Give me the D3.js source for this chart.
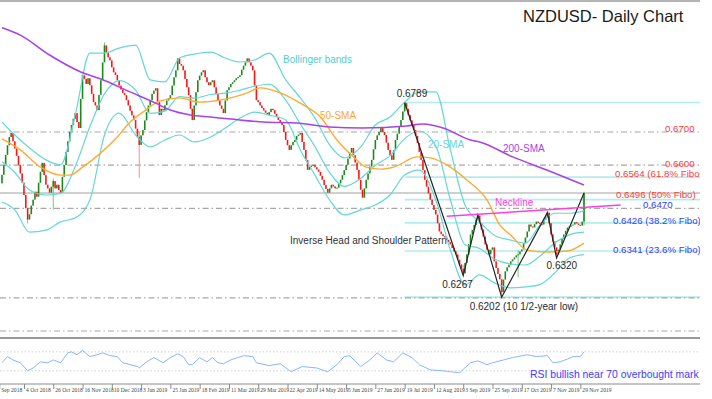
<!DOCTYPE html>
<html>
<head>
<meta charset="utf-8">
<script src="https://cdn.jsdelivr.net/npm/d3@7/dist/d3.min.js"></script>
<style>
  html, body { margin: 0; padding: 0; background: #fff; }
  svg { display: block; font-family: Arial, "Liberation Sans", sans-serif; }
</style>
</head>
<body>
<div id="chart"></div>
<script>
// NZDUSD daily closes in pips (6571 = 0.6571), one per candle
const closePips = [
  6571,6600,6631,6660,6685,6697,6672,6650,6628,6601,
  6575,6547,6510,6470,6436,6452,6478,6496,6520,6505,
  6547,6580,6607,6570,6541,6530,6517,6535,6552,6530,
  6541,6525,6517,6565,6600,6640,6672,6700,6721,6740,
  6757,6730,6712,6800,6871,6860,6845,6862,6841,6815,
  6790,6780,6766,6812,6856,6910,6961,6940,6925,6916,
  6895,6880,6872,6856,6840,6828,6818,6811,6796,6780,
  6764,6750,6736,6710,6685,6661,6690,6706,6735,6760,
  6780,6796,6815,6825,6832,6790,6751,6770,6765,6781,
  6795,6802,6811,6840,6865,6886,6922,6905,6900,6886,
  6860,6835,6811,6770,6736,6780,6820,6856,6870,6880,
  6886,6865,6850,6841,6850,6856,6835,6815,6796,6780,
  6770,6757,6795,6826,6835,6845,6850,6856,6862,6866,
  6871,6888,6900,6910,6922,6910,6900,6886,6840,6796,
  6790,6780,6772,6765,6758,6751,6760,6770,6766,6755,
  6745,6736,6730,6721,6700,6676,6660,6646,6660,6670,
  6676,6688,6692,6697,6670,6646,6615,6586,6595,6598,
  6601,6594,6587,6580,6568,6556,6540,6528,6517,6530,
  6541,6536,6530,6532,6545,6556,6570,6585,6601,6620,
  6638,6652,6630,6608,6586,6556,6526,6502,6530,6556,
  6575,6596,6616,6648,6676,6690,6700,6712,6700,6691,
  6668,6646,6630,6616,6645,6676,6695,6716,6736,6762,
  6787,6770,6751,6735,6720,6706,6688,6667,6640,6616,
  6585,6556,6535,6515,6496,6480,6465,6451,6425,6400,
  6392,6386,6382,6375,6368,6361,6350,6340,6331,6315,
  6301,6288,6274,6305,6331,6362,6391,6405,6420,6436,
  6448,6425,6406,6385,6361,6345,6331,6345,6352,6310,
  6290,6272,6256,6217,6255,6280,6292,6300,6310,6316,
  6322,6328,6331,6340,6346,6365,6382,6400,6421,6415,
  6412,6422,6430,6426,6422,6421,6435,6442,6457,6425,
  6391,6370,6352,6331,6345,6361,6378,6391,6402,6412,
  6416,6418,6421,6428,6424,6420,6418,6430,6516
];
const firstOpenPips = 6545;

// [candle, high, low] for the wicks that stick out
const wicks = [
  [14, 6470, 6424], [28, 6560, 6466], [56, 6970, 6930], [75, 6700, 6562],
  [220, 6789, 6762], [252, 6300, 6267], [273, 6245, 6202], [282, 6345, 6262],
  [303, 6352, 6320], [318, 6520, 6418]
];

// indicators: [candle, pips]
const sma200 = [
  [0,7014],[10,6992],[26,6932],[43,6881],[54,6860],[70,6821],[84,6787],[92,6766],
  [103,6751],[114,6745],[125,6739],[143,6730],[161,6727],[179,6715],[197,6712],
  [221,6718],[230,6724],[241,6712],[256,6676],[261,6670],[279,6625],[298,6585],[318,6540]
];
const sma50 = [
  [0,6679],[10,6646],[21,6594],[32,6570],[37,6570],[44,6594],[54,6637],[63,6685],
  [70,6730],[77,6760],[86,6793],[97,6803],[108,6790],[119,6796],[134,6818],[141,6833],
  [152,6818],[163,6787],[174,6745],[183,6676],[192,6625],[199,6594],[207,6588],[214,6594],
  [227,6625],[234,6622],[245,6594],[254,6555],[265,6495],[272,6420],[278,6389],[287,6344],
  [298,6338],[309,6341],[318,6365]
];
const bbUpper = [
  [0,6730],[7,6691],[15,6652],[24,6616],[32,6601],[40,6751],[48,6938],[56,6938],
  [64,6953],[73,6962],[81,6857],[89,6851],[97,6923],[105,6935],[114,6941],[122,6923],
  [130,6911],[138,6917],[146,6938],[155,6857],[163,6803],[171,6742],[179,6661],[187,6622],
  [196,6655],[204,6721],[212,6745],[220,6790],[228,6821],[237,6821],[245,6646],[253,6480],
  [261,6429],[269,6389],[278,6374],[286,6365],[294,6420],[302,6455],[310,6455],[318,6462]
];
const bbMid = [
  [0,6610],[7,6578],[15,6525],[24,6510],[32,6515],[40,6596],[48,6716],[56,6815],
  [64,6855],[73,6826],[81,6756],[89,6763],[97,6807],[105,6802],[114,6813],[122,6817],
  [130,6826],[138,6838],[146,6844],[155,6796],[163,6724],[171,6656],[179,6578],[187,6536],
  [196,6560],[204,6600],[212,6628],[220,6680],[228,6703],[237,6658],[245,6495],[253,6360],
  [261,6349],[269,6317],[278,6302],[286,6299],[294,6326],[302,6365],[310,6390],[318,6398]
];
const bbLower = [
  [0,6489],[7,6465],[15,6398],[24,6404],[32,6429],[40,6441],[48,6495],[56,6691],
  [64,6757],[73,6691],[81,6655],[89,6676],[97,6691],[105,6670],[114,6685],[122,6712],
  [130,6742],[138,6760],[146,6751],[155,6736],[163,6646],[171,6570],[179,6495],[187,6450],
  [196,6465],[204,6480],[212,6510],[220,6570],[228,6585],[237,6495],[245,6344],[253,6239],
  [261,6269],[269,6245],[278,6230],[286,6233],[294,6240],[302,6275],[310,6320],[318,6330]
];
const rsi = [
  [0,47],[3,60],[6,53],[10,47],[14,30],[17,36],[21,49],[25,47],[28,53],[32,47],[36,68],
  [38,70],[41,64],[44,73],[48,60],[52,64],[55,68],[59,62],[63,60],[66,47],[70,43],[74,39],
  [75,36],[79,49],[83,58],[88,47],[92,58],[96,66],[99,60],[102,43],[104,43],[108,58],
  [112,49],[115,58],[118,47],[121,45],[125,53],[132,62],[137,60],[139,47],[146,41],
  [152,45],[158,28],[164,39],[172,36],[178,28],[183,43],[187,60],[190,62],[196,39],
  [201,53],[205,68],[210,53],[214,49],[219,68],[224,58],[228,43],[234,32],[241,30],
  [245,28],[250,26],[256,47],[260,51],[265,43],[268,47],[274,53],[279,58],[287,64],
  [292,60],[298,62],[301,47],[305,49],[309,55],[312,60],[316,60],[318,70]
];

// horizontal levels
const keyLevels = [6700, 6600, 6470, 6200, 6100];
const fiboLevels = [6789, 6564, 6496, 6426, 6341, 6202];
const fiboStart = 220;
const neckline = [[243, 6446], [338, 6480]];
const pattern = [[220,6789],[252,6267],[260,6450],[273,6202],[298,6457],[303,6320],[318,6516]];

// date axis
const tickIdx = [-1.5,12,28,44,60,76,92,108,124,140,156,172,188,204,220,236,252,268,284,300,316];
const tickLabels = ['Sep 2018','4 Oct 2018','26 Oct 2018','16 Nov 2018','10 Dec 2018','3 Jan 2019',
  '25 Jan 2019','18 Feb 2019','11 Mar 2019','29 Mar 2019','22 Apr 2019','14 May 2019','5 Jun 2019',
  '27 Jun 2019','19 Jul 2019','12 Aug 2019','3 Sep 2019','25 Sep 2019','17 Oct 2019','7 Nov 2019','29 Nov 2019'];

const RED = '#ff3c3c', BLUE = '#3b3bff';
const levelLabels = [
  { text: '0.6700', p: 6700, color: RED, x: 665, dy: -0.5 },
  { text: '0.6600', p: 6600, color: RED, x: 665, dy: 1.5 },
  { text: '0.6564 (61.8% Fibo)', p: 6564, color: RED, x: 615, dy: 0 },
  { text: '0.6496 (50% Fibo)', p: 6496, color: RED, x: 616, dy: -2 },
  { text: '0.6470', p: 6470, color: BLUE, x: 643, dy: 0 },
  { text: '0.6426 (38.2% Fibo)', p: 6426, color: BLUE, x: 613, dy: 1.2 },
  { text: '0.6341 (23.6% Fibo)', p: 6341, color: BLUE, x: 613, dy: 1.8 }
];

const W = 712, H = 399, plotRight = 700;
const candles = closePips.map((c, i) => ({ i, o: i ? closePips[i - 1] : firstOpenPips, c }));

const svg = d3.select('#chart').append('svg')
  .attr('width', W).attr('height', H);

svg.append('defs').append('clipPath').attr('id', 'main')
  .append('rect').attr('x', 0).attr('y', 0).attr('width', plotRight).attr('height', 336);
svg.select('defs').append('clipPath').attr('id', 'bottom')
  .append('rect').attr('x', 0).attr('y', 338).attr('width', plotRight).attr('height', 61);

const x = d3.scaleLinear().domain([0, closePips.length - 1]).range([2, 584]);
const y = d3.scaleLinear().domain([6100, 6700]).range([331, 132]);
const yRsi = d3.scaleLinear().domain([0, 100]).range([385, 337.7]);

const main = svg.append('g').attr('clip-path', 'url(#main)');

// top frame line
main.append('line').attr('x1', 0).attr('x2', plotRight).attr('y1', 1).attr('y2', 1)
  .attr('stroke', '#b4b4b4').attr('stroke-width', 2);

// fibonacci retracements from the July peak
main.append('g').selectAll('line').data(fiboLevels).enter().append('line')
  .attr('x1', x(fiboStart)).attr('x2', plotRight)
  .attr('y1', d => y(d)).attr('y2', d => y(d))
  .attr('stroke', '#b2eeec').attr('stroke-width', 1.6);

// support / resistance
main.append('g').selectAll('line').data(keyLevels).enter().append('line')
  .attr('x1', 0).attr('x2', plotRight)
  .attr('y1', d => y(d)).attr('y2', d => y(d))
  .attr('stroke', '#a8a8a8').attr('stroke-width', 1.2)
  .attr('stroke-dasharray', '6,3,1.5,3');

// last price line
const lastClose = closePips[closePips.length - 1];
main.append('line').attr('x1', 0).attr('x2', plotRight)
  .attr('y1', y(lastClose)).attr('y2', y(lastClose))
  .attr('stroke', '#d0d0d0').attr('stroke-width', 2);

// candles
const wickMap = new Map(wicks.map(w => [w[0], w]));
const cg = main.append('g');
cg.selectAll('line').data(candles.filter(d => wickMap.has(d.i))).enter().append('line')
  .attr('x1', d => x(d.i)).attr('x2', d => x(d.i))
  .attr('y1', d => y(wickMap.get(d.i)[1])).attr('y2', d => y(wickMap.get(d.i)[2]))
  .attr('stroke', d => d.c >= d.o ? '#7cc47c' : '#ff8f8f').attr('stroke-width', 1);
cg.selectAll('rect').data(candles).enter().append('rect')
  .attr('x', d => x(d.i) - 0.8)
  .attr('width', 1.6)
  .attr('y', d => y(Math.max(d.o, d.c)))
  .attr('height', d => Math.max(1, Math.abs(y(d.o) - y(d.c))))
  .attr('fill', d => d.c >= d.o ? '#1b8a1b' : '#ff1414');

// indicators
const smooth = d3.line().x(d => x(d[0])).y(d => y(d[1])).curve(d3.curveMonotoneX);
[[bbUpper, '#66d6d6', 1.2], [bbMid, '#66d6d6', 1.2], [bbLower, '#66d6d6', 1.2],
 [sma50, '#ffaa33', 1.4], [sma200, '#a743e6', 1.6]].forEach(([data, col, w]) => {
  main.append('path').datum(data).attr('d', smooth)
    .attr('fill', 'none').attr('stroke', col).attr('stroke-width', w);
});

// inverse head and shoulders
const straight = d3.line().x(d => x(d[0])).y(d => y(d[1]));
main.append('path').datum(pattern).attr('d', straight)
  .attr('fill', 'none').attr('stroke', '#262626').attr('stroke-width', 1.2);
main.append('path').datum(neckline).attr('d', straight)
  .attr('fill', 'none').attr('stroke', '#ff3ee0').attr('stroke-width', 1.5);

// level labels on the right
main.append('g').selectAll('text').data(levelLabels).enter().append('text')
  .attr('x', d => d.x).attr('y', d => y(d.p) + d.dy)
  .attr('fill', d => d.color).style('font-size', '9.7px')
  .text(d => d.text);

// annotations
const notes = [
  { text: 'Bollinger bands', x: 283, y: 63, color: '#55cccc' },
  { text: '50-SMA', x: 320, y: 119, color: '#ffa630' },
  { text: '20-SMA', x: 428, y: 148, color: '#66d6d6' },
  { text: '200-SMA', x: 503, y: 152, color: '#a743e6' },
  { text: 'Neckline', x: 495, y: 206, color: '#ff3ee0' },
  { text: 'Inverse Head and Shoulder Pattern', x: 290, y: 244, color: '#333' }
];
main.append('g').selectAll('text').data(notes).enter().append('text')
  .attr('x', d => d.x).attr('y', d => d.y).attr('fill', d => d.color)
  .style('font-size', '10px').text(d => d.text);

// pivot prices
const pivots = [
  { text: '0.6789', i: 220, p: 6789, dx: -8, dy: -5 },
  { text: '0.6267', i: 252, p: 6267, dx: -21, dy: 12 },
  { text: '0.6320', i: 303, p: 6320, dx: -10, dy: 11 },
  { text: '0.6202 (10 1/2-year low)', i: 273, p: 6202, dx: -32, dy: 13 }
];
main.append('g').selectAll('text').data(pivots).enter().append('text')
  .attr('x', d => x(d.i) + d.dx).attr('y', d => y(d.p) + d.dy)
  .attr('fill', '#2a2a2a').style('font-size', '10px').text(d => d.text);

// title
svg.append('text').attr('x', 523).attr('y', 21.5)
  .attr('fill', '#1a1a1a').style('font-size', '16.5px').text('NZDUSD- Daily Chart');

// RSI panel
svg.append('line').attr('x1', 0).attr('x2', plotRight).attr('y1', 338).attr('y2', 338)
  .attr('stroke', '#9a9a9a').attr('stroke-width', 2.2);
const bottom = svg.append('g').attr('clip-path', 'url(#bottom)');
bottom.selectAll('line.rsilvl').data([70, 30]).enter().append('line')
  .attr('class', 'rsilvl')
  .attr('x1', 0).attr('x2', plotRight).attr('y1', d => yRsi(d)).attr('y2', d => yRsi(d))
  .attr('stroke', '#cfcfcf').attr('stroke-dasharray', '1.5,2');
bottom.append('path').datum(rsi)
  .attr('d', d3.line().x(d => x(d[0])).y(d => yRsi(d[1])))
  .attr('fill', 'none').attr('stroke', '#88b6ff').attr('stroke-width', 1);
bottom.append('text').attr('x', 530).attr('y', 378).attr('fill', BLUE)
  .style('font-size', '10.4px').text('RSI bullish near 70 overbought mark');

// date axis
const axis = d3.axisBottom(x).tickValues(tickIdx)
  .tickFormat((d, k) => tickLabels[k]).tickSize(5).tickSizeOuter(0);
const ax = bottom.append('g').attr('transform', 'translate(0,384)').call(axis);
ax.select('.domain').remove();
ax.append('line').attr('x1', 0).attr('x2', plotRight).attr('stroke', '#8a8a8a');
ax.selectAll('.tick line').attr('stroke', '#8a8a8a');
ax.selectAll('.tick text')
  .attr('text-anchor', 'start').attr('x', 1.5).attr('y', 4).attr('dy', '0.71em')
  .attr('fill', '#444').style('font-size', '5.6px')
  .style('font-family', '"Liberation Serif", serif');
</script>
</body>
</html>
